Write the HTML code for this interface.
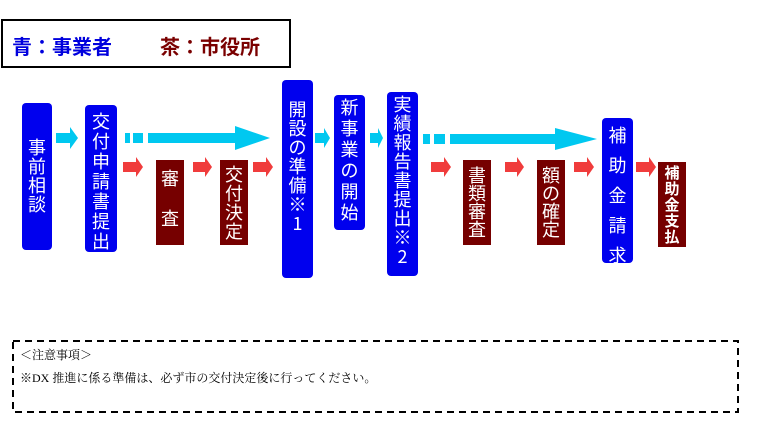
<!DOCTYPE html>
<html><head><meta charset="utf-8"><style>
body{margin:0;width:767px;height:439px;background:#fff;position:relative;overflow:hidden;font-family:"Liberation Sans","Noto Sans CJK JP",sans-serif}
.b{position:absolute;color:#fff;text-align:center;font-size:18px;font-family:"Noto Sans CJK JP",sans-serif;box-sizing:border-box}
.bl{background:#0000ee;border-radius:4px}
.rd{background:#760000}
svg{position:absolute;left:0;top:0}
</style></head><body>
<svg width="767" height="439">
<g fill="#00c8f0">
<polygon points="56,133 70,133 70,127 78,138 70,149 70,143 56,143"/>
<rect x="125" y="133" width="5" height="10"/><rect x="133" y="133" width="10" height="10"/>
<polygon points="148,133 235,133 235,126 270,138 235,150 235,143 148,143"/>
<polygon points="315,133 324,133 324,128 330,138 324,148 324,143 315,143"/>
<polygon points="370,133 378,133 378,128 383,138 378,148 378,143 370,143"/>
<rect x="423" y="134" width="7" height="10"/><rect x="434" y="134" width="11" height="10"/>
<polygon points="450,134 555,134 555,128 597,139 555,150 555,144 450,144"/>
</g>
<g fill="#f03c3c">
<polygon points="123,162 136,162 136,157 143,167 136,177 136,172 123,172"/>
<polygon points="193,162 205,162 205,157 212,167 205,177 205,172 193,172"/>
<polygon points="253,162 266,162 266,157 273,167 266,177 266,172 253,172"/>
<polygon points="431,162 444,162 444,157 451,167 444,177 444,172 431,172"/>
<polygon points="505,162 517,162 517,157 524,167 517,177 517,172 505,172"/>
<polygon points="574,162 587,162 587,157 594,167 587,177 587,172 574,172"/>
<polygon points="636,162 649,162 649,157 656,167 649,177 649,172 636,172"/>
</g>
<rect x="2" y="20" width="288" height="47" fill="none" stroke="#000" stroke-width="2"/>
<rect x="13" y="341" width="725" height="71" fill="none" stroke="#000" stroke-width="2" stroke-dasharray="7,5"/>
</svg>
<div style="position:absolute;left:12px;top:34px;font-size:20px;font-weight:bold;color:#0000dd;font-family:'Noto Sans CJK JP',sans-serif;line-height:24px">青：事業者</div>
<div style="position:absolute;left:160px;top:34px;font-size:20px;font-weight:bold;color:#7a0000;font-family:'Noto Sans CJK JP',sans-serif;line-height:24px">茶：市役所</div>

<div class="b bl" style="left:22px;top:103px;width:30px;height:147px;padding-top:35px;line-height:19px">事<br>前<br>相<br>談</div>
<div class="b bl" style="left:85px;top:105px;width:32px;height:147px;padding-top:6px;line-height:20px">交<br>付<br>申<br>請<br>書<br>提<br>出</div>
<div class="b rd" style="left:156px;top:160px;width:28px;height:85px;padding-top:8px;line-height:20px">審<br><br>査</div>
<div class="b rd" style="left:220px;top:160px;width:28px;height:85px;padding-top:5px;line-height:19px">交<br>付<br>決<br>定</div>
<div class="b bl" style="left:282px;top:80px;width:31px;height:198px;padding-top:20px;line-height:19px">開<br>設<br>の<br>準<br>備<br>※<br>1</div>
<div class="b bl" style="left:334px;top:95px;width:31px;height:135px;padding-top:2px;line-height:21px">新<br>事<br>業<br>の<br>開<br>始</div>
<div class="b bl" style="left:387px;top:92px;width:31px;height:184px;padding-top:3px;line-height:19px">実<br>績<br>報<br>告<br>書<br>提<br>出<br>※<br>2</div>
<div class="b rd" style="left:463px;top:160px;width:28px;height:85px;padding-top:6px;line-height:18px">書<br>類<br>審<br>査</div>
<div class="b rd" style="left:537px;top:160px;width:28px;height:85px;padding-top:6px;line-height:18px">額<br>の<br>確<br>定</div>
<div class="b bl" style="left:602px;top:118px;width:31px;height:145px;padding-top:2px;line-height:30px">補<br>助<br>金<br>請<br>求</div>
<div class="b rd" style="left:658px;top:162px;width:28px;height:85px;padding-top:3px;line-height:16px;font-size:15px;font-weight:bold">補<br>助<br>金<br>支<br>払</div>

<div style="position:absolute;left:20px;top:344px;font-size:12px;line-height:23px;font-family:'Liberation Serif','Noto Serif CJK SC',serif;color:#000">＜注意事項＞<br>※DX 推進に係る準備は、必ず市の交付決定後に行ってください。</div>
</body></html>
